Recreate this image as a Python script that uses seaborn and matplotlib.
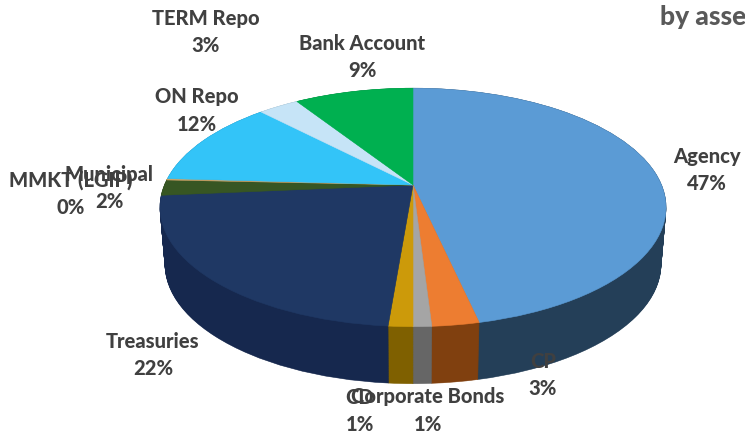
import matplotlib
matplotlib.use("Agg")
import matplotlib.pyplot as plt
import seaborn as sns
from matplotlib.transforms import Affine2D, Transform
import numpy as np

# Allocation shares, clockwise from twelve o'clock
sectors = ["Agency", "CP", "Corporate Bonds", "CD", "Treasuries",
           "Municipal", "MMKT (LGIP)", "ON Repo", "TERM Repo", "Bank Account"]
shares = [46.51, 2.51, 0.98, 1.3, 22.3, 2.1, 0.2, 11.9, 3.1, 9.1]

top_colors = ["#5B9BD5", "#ED7D31", "#A5A5A5", "#CC9A0A", "#1F3864",
              "#375623", "#C9A36A", "#33C4F8", "#C6E4F7", "#00B050"]
side_colors = ["#243F58", "#80400F", "#666666", "#7F6000", "#16284E",
               "#263C18", "#7F6000", "#1B7FA8", "#7F99A8", "#006E32"]

label_centres_px = [(707, 156), (543, 361), (428, 397), (360, 397), (153, 341),
                    (109, 174), (71, 180), (197, 97), (206, 18), (362, 43)]

WIDTH, HEIGHT = 745, 434
APEX_X, APEX_Y = 413, 185
DEPTH_PX = 57
LINE_GAP_PX = 27.5


class TiltedDisc(Transform):
    """Perspective view of the unit disc: the far edge recedes and shrinks."""
    input_dims = output_dims = 2
    is_affine = False
    has_inverse = False

    def __init__(self, half_width=248.5, height=115.0, recede=0.188):
        super().__init__()
        self.half_width, self.height, self.recede = half_width, height, recede

    def transform_non_affine(self, values):
        xy = np.asarray(values, dtype=float)
        w = 1 + self.recede * xy[:, 1]
        return np.column_stack((self.half_width * xy[:, 0] / w,
                                self.height * xy[:, 1] / w))


sns.set_theme(style="white")
plt.rcParams["font.family"] = ["Lato", "DejaVu Sans"]

fig = plt.figure(figsize=(WIDTH / 100, HEIGHT / 100), dpi=100)
ax = fig.add_axes([0, 0, 1, 1])
disc = TiltedDisc()


def draw_disc(colors, x_scale, drop):
    wedges, _ = ax.pie(shares, colors=sns.color_palette(colors),
                       startangle=90, counterclock=False)
    shift = Affine2D().scale(x_scale, 1).translate(0, -drop)
    for wedge, color in zip(wedges, colors):
        wedge.set_transform(disc + shift + ax.transData)
        wedge.set_edgecolor(color)
        wedge.set_linewidth(0.4)


# The rim is a stack of dark discs; the bright top face goes on last
for t in np.linspace(1, 0, 80):
    draw_disc(side_colors, 1 - 0.02 * t, DEPTH_PX * t)
draw_disc(top_colors, 1, 0)

ax.set_aspect("auto")
ax.set_xlim(-APEX_X, WIDTH - APEX_X)
ax.set_ylim(APEX_Y - HEIGHT, APEX_Y)
ax.axis("off")

for name, share, (px, py) in zip(sectors, shares, label_centres_px):
    for text, y in ((name, py), (f"{share:.0f}%", py + LINE_GAP_PX)):
        ax.text(px - APEX_X, APEX_Y - y, text, ha="center", va="center",
                fontsize=14.5, fontweight="black", color="#404040")

ax.text(660 - APEX_X, APEX_Y - 17, "by asse", ha="left", va="center",
        fontsize=19, fontweight="black", color="#595959")

fig.savefig("out.png", dpi=100)
